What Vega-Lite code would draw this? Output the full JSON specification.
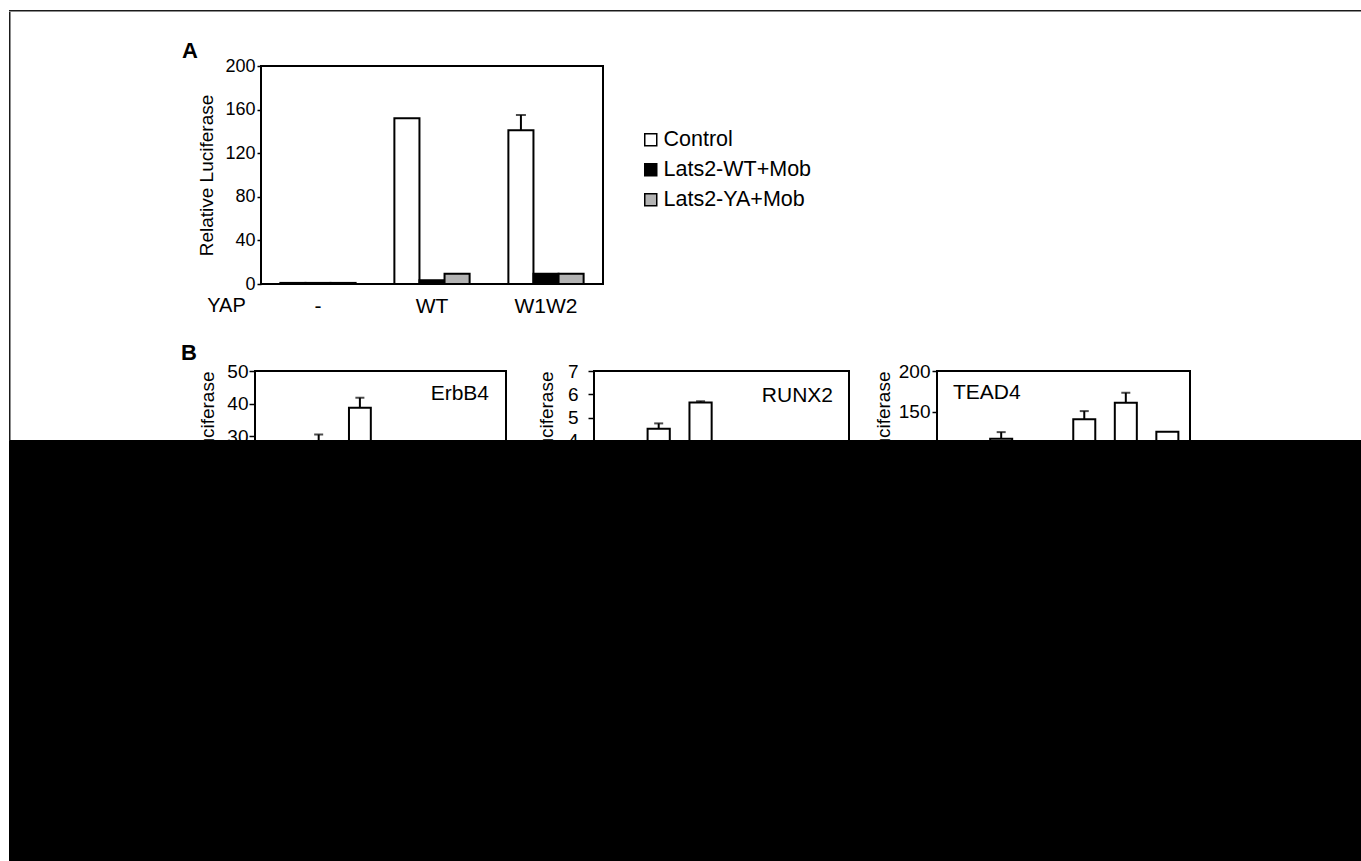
{
  "$schema": "https://vega.github.io/schema/vega-lite/v6.json",
  "autosize": {"type": "pad"},
  "padding": {"left": 8, "top": 10, "right": 0, "bottom": 0},
  "background": "white",
  "datasets": {
    "none": [],
    "luciferaseA": [
      {"yap": "-", "condition": "Control", "value": 1},
      {"yap": "-", "condition": "Lats2-WT+Mob", "value": 1},
      {"yap": "-", "condition": "Lats2-YA+Mob", "value": 1},
      {"yap": "WT", "condition": "Control", "value": 152},
      {"yap": "WT", "condition": "Lats2-WT+Mob", "value": 3.5},
      {"yap": "WT", "condition": "Lats2-YA+Mob", "value": 9.5},
      {"yap": "W1W2", "condition": "Control", "value": 141},
      {"yap": "W1W2", "condition": "Lats2-WT+Mob", "value": 9.5},
      {"yap": "W1W2", "condition": "Lats2-YA+Mob", "value": 9.5}
    ],
    "errorsA": [
      {"yap": "W1W2", "condition": "Control", "value": 141, "upper": 155}
    ],
    "erbb4": [
      {"slot": "2", "value": 27.5, "upper": 30.5},
      {"slot": "3", "value": 38.7, "upper": 41.8}
    ],
    "runx2": [
      {"slot": "2", "value": 4.52, "upper": 4.75},
      {"slot": "3", "value": 5.65, "upper": 5.7}
    ],
    "tead4": [
      {"slot": "2", "value": 116.8, "upper": 125},
      {"slot": "4", "value": 140.7, "upper": 150.8},
      {"slot": "5", "value": 161, "upper": 173.3},
      {"slot": "6", "value": 125.4, "upper": null}
    ]
  },
  "spacing": 0,
  "bounds": "flush",
  "hconcat": [
    {
      "spacing": 0,
      "bounds": "flush",
      "vconcat": [
        {"width": 1400, "height": 1.5, "data": {"name": "none"}, "mark": "point", "view": {"fill": "#1a1a1a", "stroke": null}},
        {"width": 1.5, "height": 428.5, "data": {"name": "none"}, "mark": "point", "view": {"fill": "#1a1a1a", "stroke": null}}
      ]
    },
    {
      "spacing": 0,
      "bounds": "flush",
      "vconcat": [
        {"width": 0.01, "height": 56, "data": {"name": "none"}, "mark": "point"},
        {
          "spacing": 0,
          "bounds": "flush",
          "hconcat": [
            {"width": 252, "height": 0.01, "data": {"name": "none"}, "mark": "point"},
            {
              "width": 342,
              "height": 218,
              "view": {"stroke": "black", "strokeWidth": 2},
              "title": {"text": "A", "anchor": "start", "frame": "group", "dx": -79, "offset": -23, "baseline": "alphabetic", "fontSize": 22, "fontWeight": "bold", "color": "black"},
              "encoding": {
                "x": {
                  "field": "yap", "type": "nominal", "title": "YAP",
                  "scale": {"domain": ["-", "WT", "W1W2"], "paddingInner": 0.34, "paddingOuter": 0.17},
                  "axis": {"domain": false, "ticks": false, "labelAngle": 0, "labelFontSize": 21, "labelPadding": 11, "titleFontSize": 20, "titleX": -35, "titleY": 11, "titleBaseline": "top", "titleAlign": "center"}
                },
                "xOffset": {
                  "field": "condition", "type": "nominal",
                  "scale": {"domain": ["Control", "Lats2-WT+Mob", "Lats2-YA+Mob"], "paddingInner": 0, "paddingOuter": 0}
                }
              },
              "layer": [
                {
                  "data": {"name": "luciferaseA"},
                  "mark": {"type": "bar", "stroke": "black", "strokeWidth": 2},
                  "encoding": {
                    "y": {
                      "field": "value", "type": "quantitative", "title": "Relative Luciferase",
                      "scale": {"domain": [0, 200]},
                      "axis": {"values": [0, 40, 80, 120, 160, 200], "labelOverlap": false, "domain": false, "tickSize": 4, "tickWidth": 1.5, "labelFontSize": 18, "labelPadding": 2, "titleFontSize": 19, "titlePadding": 8}
                    },
                    "fill": {
                      "field": "condition", "type": "nominal",
                      "scale": {"domain": ["Control", "Lats2-WT+Mob", "Lats2-YA+Mob"], "range": ["white", "black", "#b3b3b3"]},
                      "legend": {"orient": "none", "legendX": 631, "legendY": 119, "title": null, "symbolType": "square", "symbolSize": 144, "symbolStrokeColor": "black", "symbolStrokeWidth": 1.5, "labelFontSize": 21.5, "rowPadding": 7, "labelOffset": 2, "labelColor": "black", "padding": 0}
                    }
                  }
                },
                {
                  "data": {"name": "errorsA"},
                  "mark": {"type": "rule", "color": "black", "strokeWidth": 2},
                  "encoding": {
                    "y": {"field": "value", "type": "quantitative", "title": "Relative Luciferase"},
                    "y2": {"field": "upper"}
                  }
                },
                {
                  "data": {"name": "errorsA"},
                  "mark": {"type": "tick", "color": "black", "thickness": 2, "size": 10},
                  "encoding": {
                    "y": {"field": "upper", "type": "quantitative", "title": "Relative Luciferase"}
                  }
                }
              ]
            }
          ]
        }
      ]
    },
    {
      "spacing": 0,
      "bounds": "flush",
      "vconcat": [
        {"width": 0.01, "height": 361, "data": {"name": "none"}, "mark": "point"},
        {
          "spacing": 0,
          "bounds": "flush",
          "hconcat": [
            {
              "width": 246, "height": 0.01, "data": {"name": "none"}, "mark": "point",
              "title": {"text": "B", "anchor": "start", "frame": "group", "dx": 172, "offset": -11, "baseline": "alphabetic", "fontSize": 22, "fontWeight": "bold", "color": "black"}
            },
            {
              "width": 251,
              "height": 163,
              "view": {"stroke": "black", "strokeWidth": 2},
              "title": {"text": "ErbB4", "anchor": "end", "frame": "group", "dx": -17, "offset": -58.7, "baseline": "alphabetic", "fontSize": 21, "fontWeight": "normal", "color": "black"},
              "data": {"name": "erbb4"},
              "encoding": {
                "x": {"field": "slot", "type": "ordinal", "scale": {"domain": ["1", "2", "3", "4", "5", "6"], "paddingInner": 0.47, "paddingOuter": 0.28}, "axis": null}
              },
              "layer": [
                {
                  "mark": {"type": "bar", "fill": "white", "stroke": "black", "strokeWidth": 2},
                  "encoding": {
                    "y": {
                      "field": "value", "type": "quantitative", "title": "Relative Luciferase",
                      "scale": {"domain": [0, 50]},
                      "axis": {"values": [0, 10, 20, 30, 40, 50], "labelOverlap": false, "domain": false, "tickSize": 6, "tickWidth": 1.5, "labelFontSize": 19, "labelPadding": 1, "titleFontSize": 19, "titlePadding": 9, "titleAnchor": "end"}
                    }
                  }
                },
                {
                  "transform": [{"filter": {"field": "upper", "valid": true}}],
                  "mark": {"type": "rule", "color": "black", "strokeWidth": 2},
                  "encoding": {
                    "y": {
                      "field": "value", "type": "quantitative", "title": "Relative Luciferase",
                      "axis": {"values": [0, 10, 20, 30, 40, 50], "labelOverlap": false, "domain": false, "tickSize": 6, "tickWidth": 1.5, "labelFontSize": 19, "labelPadding": 1, "titleFontSize": 19, "titlePadding": 9, "titleAnchor": "end"}
                    },
                    "y2": {"field": "upper"}
                  }
                },
                {
                  "transform": [{"filter": {"field": "upper", "valid": true}}],
                  "mark": {"type": "tick", "color": "black", "thickness": 2, "size": 9},
                  "encoding": {
                    "y": {
                      "field": "upper", "type": "quantitative", "title": "Relative Luciferase",
                      "axis": {"values": [0, 10, 20, 30, 40, 50], "labelOverlap": false, "domain": false, "tickSize": 6, "tickWidth": 1.5, "labelFontSize": 19, "labelPadding": 1, "titleFontSize": 19, "titlePadding": 9, "titleAnchor": "end"}
                    }
                  }
                }
              ]
            },
            {"width": 87.5, "height": 0.01, "data": {"name": "none"}, "mark": "point"},
            {
              "width": 255,
              "height": 163,
              "view": {"stroke": "black", "strokeWidth": 2},
              "title": {"text": "RUNX2", "anchor": "end", "frame": "group", "dx": -16, "offset": -60.6, "baseline": "alphabetic", "fontSize": 21, "fontWeight": "normal", "color": "black"},
              "data": {"name": "runx2"},
              "encoding": {
                "x": {"field": "slot", "type": "ordinal", "scale": {"domain": ["1", "2", "3", "4", "5", "6"], "paddingInner": 0.47, "paddingOuter": 0.28}, "axis": null}
              },
              "layer": [
                {
                  "mark": {"type": "bar", "fill": "white", "stroke": "black", "strokeWidth": 2},
                  "encoding": {
                    "y": {
                      "field": "value", "type": "quantitative", "title": "Relative Luciferase",
                      "scale": {"domain": [0, 7]},
                      "axis": {"values": [0, 1, 2, 3, 4, 5, 6, 7], "labelOverlap": false, "domain": false, "tickSize": 6, "tickWidth": 1.5, "labelFontSize": 19, "labelPadding": 10, "titleFontSize": 19, "titlePadding": 11, "titleAnchor": "end"}
                    }
                  }
                },
                {
                  "transform": [{"filter": {"field": "upper", "valid": true}}],
                  "mark": {"type": "rule", "color": "black", "strokeWidth": 2},
                  "encoding": {
                    "y": {
                      "field": "value", "type": "quantitative", "title": "Relative Luciferase",
                      "axis": {"values": [0, 1, 2, 3, 4, 5, 6, 7], "labelOverlap": false, "domain": false, "tickSize": 6, "tickWidth": 1.5, "labelFontSize": 19, "labelPadding": 10, "titleFontSize": 19, "titlePadding": 11, "titleAnchor": "end"}
                    },
                    "y2": {"field": "upper"}
                  }
                },
                {
                  "transform": [{"filter": {"field": "upper", "valid": true}}],
                  "mark": {"type": "tick", "color": "black", "thickness": 2, "size": 9},
                  "encoding": {
                    "y": {
                      "field": "upper", "type": "quantitative", "title": "Relative Luciferase",
                      "axis": {"values": [0, 1, 2, 3, 4, 5, 6, 7], "labelOverlap": false, "domain": false, "tickSize": 6, "tickWidth": 1.5, "labelFontSize": 19, "labelPadding": 10, "titleFontSize": 19, "titlePadding": 11, "titleAnchor": "end"}
                    }
                  }
                }
              ]
            },
            {"width": 87.5, "height": 0.01, "data": {"name": "none"}, "mark": "point"},
            {
              "width": 253,
              "height": 163,
              "view": {"stroke": "black", "strokeWidth": 2},
              "title": {"text": "TEAD4", "anchor": "start", "frame": "group", "dx": 16, "offset": -58, "baseline": "alphabetic", "fontSize": 21, "fontWeight": "normal", "color": "black"},
              "data": {"name": "tead4"},
              "encoding": {
                "x": {"field": "slot", "type": "ordinal", "scale": {"domain": ["1", "2", "3", "4", "5", "6"], "paddingInner": 0.47, "paddingOuter": 0.28}, "axis": null}
              },
              "layer": [
                {
                  "mark": {"type": "bar", "fill": "white", "stroke": "black", "strokeWidth": 2},
                  "encoding": {
                    "y": {
                      "field": "value", "type": "quantitative", "title": "Relative Luciferase",
                      "scale": {"domain": [0, 200]},
                      "axis": {"values": [0, 50, 100, 150, 200], "labelOverlap": false, "domain": false, "tickSize": 5, "tickWidth": 1.5, "labelFontSize": 19, "labelPadding": 2, "titleFontSize": 19, "titlePadding": 5, "titleAnchor": "end"}
                    }
                  }
                },
                {
                  "transform": [{"filter": {"field": "upper", "valid": true}}],
                  "mark": {"type": "rule", "color": "black", "strokeWidth": 2},
                  "encoding": {
                    "y": {
                      "field": "value", "type": "quantitative", "title": "Relative Luciferase",
                      "axis": {"values": [0, 50, 100, 150, 200], "labelOverlap": false, "domain": false, "tickSize": 5, "tickWidth": 1.5, "labelFontSize": 19, "labelPadding": 2, "titleFontSize": 19, "titlePadding": 5, "titleAnchor": "end"}
                    },
                    "y2": {"field": "upper"}
                  }
                },
                {
                  "transform": [{"filter": {"field": "upper", "valid": true}}],
                  "mark": {"type": "tick", "color": "black", "thickness": 2, "size": 9},
                  "encoding": {
                    "y": {
                      "field": "upper", "type": "quantitative", "title": "Relative Luciferase",
                      "axis": {"values": [0, 50, 100, 150, 200], "labelOverlap": false, "domain": false, "tickSize": 5, "tickWidth": 1.5, "labelFontSize": 19, "labelPadding": 2, "titleFontSize": 19, "titlePadding": 5, "titleAnchor": "end"}
                    }
                  }
                }
              ]
            }
          ]
        }
      ]
    },
    {
      "spacing": 0,
      "bounds": "flush",
      "vconcat": [
        {"width": 0.01, "height": 430, "data": {"name": "none"}, "mark": "point"},
        {"width": 1400, "height": 460, "data": {"name": "none"}, "mark": "point", "view": {"fill": "black", "stroke": "black", "strokeWidth": 1}}
      ]
    }
  ],
  "config": {
    "font": "Liberation Sans",
    "view": {"stroke": null},
    "axis": {"grid": false, "labelOverlap": false, "labelColor": "black", "titleColor": "black", "tickColor": "black", "domainColor": "black", "titleFontWeight": "normal"},
    "title": {"color": "black"}
  }
}
